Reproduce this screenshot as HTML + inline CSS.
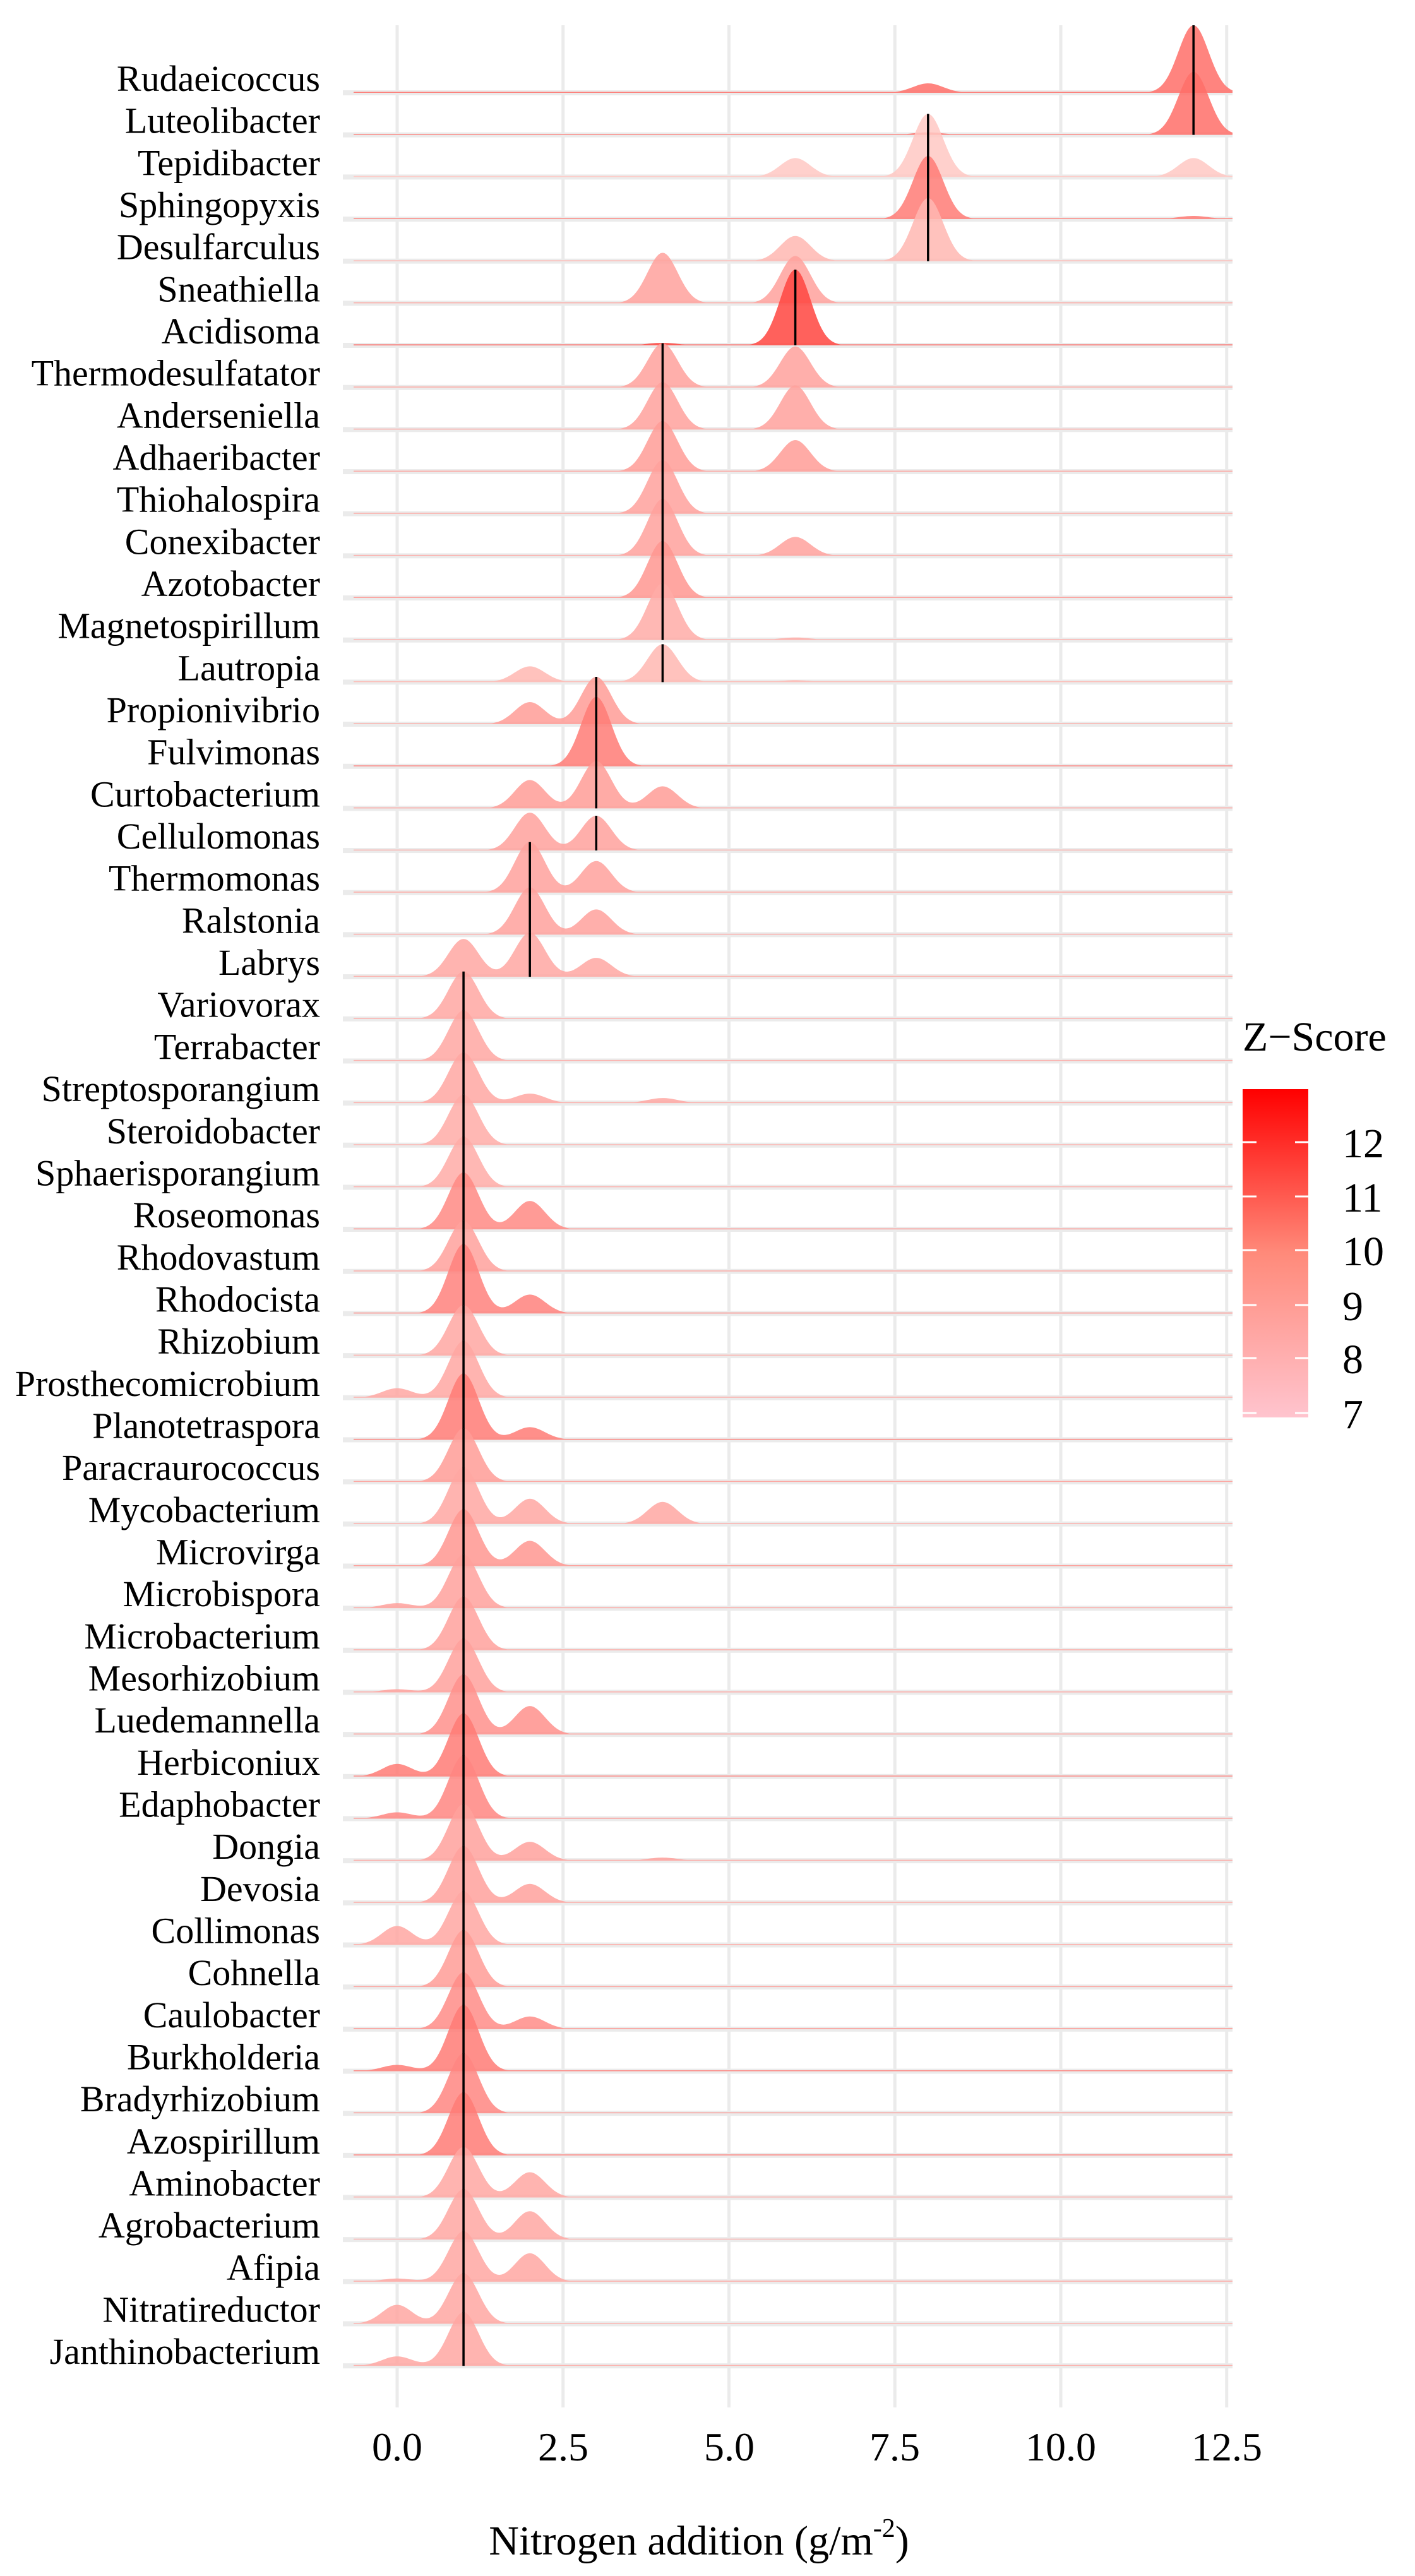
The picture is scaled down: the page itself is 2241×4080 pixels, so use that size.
<!DOCTYPE html>
<html><head><meta charset="utf-8"><style>
html,body{margin:0;padding:0;background:#fff;width:2241px;height:4080px;overflow:hidden}
svg{display:block}
text{font-family:"Liberation Serif",serif;fill:#000}
</style></head><body>
<svg id="s" width="2241" height="4080" xmlns="http://www.w3.org/2000/svg">
<defs><linearGradient id="g" x1="0" y1="1" x2="0" y2="0">
<stop offset="0" stop-color="#FFC4CE"/><stop offset="0.5" stop-color="#FF8A7A"/><stop offset="1" stop-color="#FF0000"/></linearGradient></defs>
<g id="grid"></g><g id="rows"></g>
<text x="1968" y="1664" font-size="66">Z−Score</text>
<rect x="1968" y="1725" width="104" height="520" fill="url(#g)"/>
<g stroke="#fff" stroke-width="3">
<line x1="1968" y1="1809" x2="1990" y2="1809"/><line x1="2051" y1="1809" x2="2072" y2="1809"/>
<line x1="1968" y1="1895" x2="1990" y2="1895"/><line x1="2051" y1="1895" x2="2072" y2="1895"/>
<line x1="1968" y1="1980" x2="1990" y2="1980"/><line x1="2051" y1="1980" x2="2072" y2="1980"/>
<line x1="1968" y1="2067" x2="1990" y2="2067"/><line x1="2051" y1="2067" x2="2072" y2="2067"/>
<line x1="1968" y1="2151" x2="1990" y2="2151"/><line x1="2051" y1="2151" x2="2072" y2="2151"/>
<line x1="1968" y1="2238" x2="1990" y2="2238"/><line x1="2051" y1="2238" x2="2072" y2="2238"/>
</g>
<g font-size="66"><text x="2126" y="1833">12</text><text x="2126" y="1919">11</text><text x="2126" y="2004">10</text><text x="2126" y="2091">9</text><text x="2126" y="2175">8</text><text x="2126" y="2262">7</text></g>
<g font-size="64" text-anchor="middle"><text x="629" y="3897">0.0</text><text x="892" y="3897">2.5</text><text x="1155" y="3897">5.0</text><text x="1417" y="3897">7.5</text><text x="1680" y="3897">10.0</text><text x="1943" y="3897">12.5</text></g>
<text x="1107" y="4046" font-size="66" text-anchor="middle">Nitrogen addition (g/m<tspan font-size="42" dy="-28">-2</tspan><tspan dy="28">)</tspan></text>
</svg>
<script>
var X0=629,U=105.1,Y0=147,DY=66.67,SD=24;
var rows=[
["Rudaeicoccus",12,[[8,15,10],[12,107,10.5]]],
["Luteolibacter",12,[[8,4,10],[12,100,10.5]]],
["Tepidibacter",8,[[6,30,7.2],[8,100,7.2],[12,30,7.2]]],
["Sphingopyxis",8,[[8,100,10],[12,5,10]]],
["Desulfarculus",8,[[6,40,7.8],[8,100,7.8]]],
["Sneathiella",null,[[4,80,8.6],[6,75,8.6]]],
["Acidisoma",6,[[4,4,12],[6,120,12]]],
["Thermodesulfatator",4,[[4,70,8.6],[6,65,8.6]]],
["Anderseniella",4,[[4,75,8.6],[6,70,8.6]]],
["Adhaeribacter",4,[[4,80,8.8],[6,50,8.8]]],
["Thiohalospira",4,[[4,85,8.6]]],
["Conexibacter",4,[[4,90,8.6],[6,30,8.6]]],
["Azotobacter",4,[[4,90,9]]],
["Magnetospirillum",4,[[4,90,8.2],[6,4,8.2]]],
["Lautropia",4,[[2,25,7.8],[4,60,7.8],[6,3,7.8]]],
["Propionivibrio",3,[[2,35,8.8],[3,75,8.8]]],
["Fulvimonas",3,[[3,110,10]]],
["Curtobacterium",3,[[2,45,8.8],[3,75,8.8],[4,35,8.8]]],
["Cellulomonas",3,[[2,60,8.6],[3,55,8.6]]],
["Thermomonas",2,[[2,80,8.6],[3,50,8.6]]],
["Ralstonia",2,[[2,75,8.6],[3,40,8.6]]],
["Labrys",2,[[1,60,8.4],[2,70,8.4],[3,30,8.4]]],
["Variovorax",1,[[1,75,8.4]]],
["Terrabacter",1,[[1,80,8.4]]],
["Streptosporangium",1,[[1,80,8.4],[2,15,8.4],[4,8,8.4]]],
["Steroidobacter",1,[[1,80,8.2]]],
["Sphaerisporangium",1,[[1,80,8.2]]],
["Roseomonas",1,[[1,90,9.5],[2,45,9.5]]],
["Rhodovastum",1,[[1,80,8.6]]],
["Rhodocista",1,[[1,110,9.8],[2,30,9.8]]],
["Rhizobium",1,[[1,80,8.4]]],
["Prosthecomicrobium",1,[[0,15,8.4],[1,90,8.4]]],
["Planotetraspora",1,[[1,105,10],[2,20,10]]],
["Paracraurococcus",1,[[1,85,8.8]]],
["Mycobacterium",1,[[1,90,8.4],[2,40,8.4],[4,35,8.4]]],
["Microvirga",1,[[1,90,9],[2,40,9]]],
["Microbispora",1,[[0,8,8.6],[1,85,8.6]]],
["Microbacterium",1,[[1,85,8.6]]],
["Mesorhizobium",1,[[0,5,8.6],[1,85,8.6]]],
["Luedemannella",1,[[1,95,9.2],[2,45,9.2]]],
["Herbiconiux",1,[[0,20,10],[1,100,10]]],
["Edaphobacter",1,[[0,10,9.6],[1,100,9.6]]],
["Dongia",1,[[1,90,8.6],[2,30,8.6],[4,5,8.6]]],
["Devosia",1,[[1,90,8.6],[2,30,8.6]]],
["Collimonas",1,[[0,30,8.4],[1,85,8.4]]],
["Cohnella",1,[[1,90,8.8]]],
["Caulobacter",1,[[1,90,9.4],[2,20,9.4]]],
["Burkholderia",1,[[0,10,10],[1,105,10]]],
["Bradyrhizobium",1,[[1,95,9.6]]],
["Azospirillum",1,[[1,100,10]]],
["Aminobacter",1,[[1,80,8.4],[2,40,8.4]]],
["Agrobacterium",1,[[1,80,8.4],[2,45,8.4]]],
["Afipia",1,[[0,5,8.4],[1,80,8.4],[2,45,8.4]]],
["Nitratireductor",1,[[0,30,8.4],[1,80,8.4]]],
["Janthinobacterium",1,[[0,15,8.4],[1,85,8.4]]]];
function col(z){var t=Math.max(0,Math.min(1,(z-7)/5.5));
var g=Math.round(205-150*t),b=Math.round(200-150*t);return "rgba(255,"+g+","+b+",0.85)";}
var ns="http://www.w3.org/2000/svg";
function el(p,n,a){var e=document.createElementNS(ns,n);for(var k in a)e.setAttribute(k,a[k]);p.appendChild(e);return e;}
var G=document.getElementById("grid"),R=document.getElementById("rows");
for(var k=0;k<6;k++){var x=X0+k*2.5*U;el(G,"line",{x1:x,y1:40,x2:x,y2:3813,stroke:"#EBEBEB","stroke-width":5});}
for(var i=0;i<rows.length;i++){var y=Y0+i*DY;el(G,"rect",{x:543,y:y-4,width:1409,height:8,fill:"#EBEBEB"});}
for(var i=0;i<rows.length;i++){
 var r=rows[i],y=Y0+i*DY,pk=r[2],z=0;
 var t=el(R,"text",{x:507,y:y-3,"font-size":58,"text-anchor":"end"});t.textContent=r[0];
 pk.forEach(function(p){z=Math.max(z,p[2]);});
 var d="M560,"+y;
 for(var x=560;x<=1952;x+=3){var h=0;pk.forEach(function(p){var c=X0+p[0]*U;h+=p[1]*Math.exp(-0.5*Math.pow((x-c)/SD,2));});
  d+=" L"+x+","+(y-Math.max(h,1.5)).toFixed(1);}
 d+=" L1952,"+y+" Z";
 el(R,"path",{d:d,fill:col(z)});
 if(r[1]!==null){var c=X0+r[1]*U,h=0;pk.forEach(function(p){h+=p[1]*Math.exp(-0.5*Math.pow((c-(X0+p[0]*U))/SD,2));});
  el(R,"line",{x1:c,y1:y,x2:c,y2:y-h,stroke:"#000","stroke-width":3.5});}
}
</script>
</body></html>
